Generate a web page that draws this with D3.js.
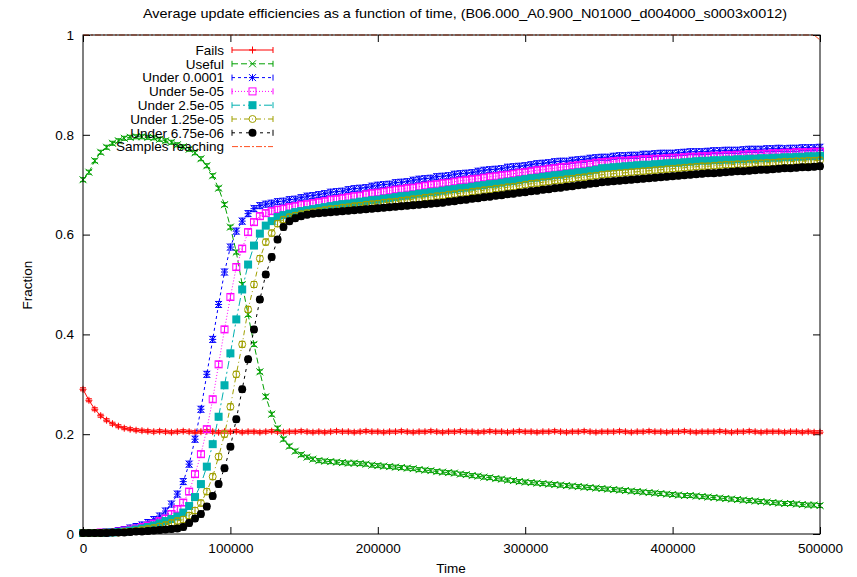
<!DOCTYPE html>
<html><head><meta charset="utf-8">
<script src="https://cdn.jsdelivr.net/npm/d3@7"></script>
<style>body{margin:0;background:#fff}svg{display:block}text{font-family:"Liberation Sans",Arial,sans-serif;fill:#000}</style>
</head><body><svg id="c" width="857" height="577"></svg>
<script>
const times = [0,4000,8000,12000,16000,20000,24000,28000,32000,36000,
40000,44000,48000,52000,56000,60000,64000,68000,72000,76000,
80000,84000,88000,92000,96000,100000,104000,108000,112000,116000,
120000,124000,128000,132000,136000,140000,144000,148000,152000,156000,
160000,164000,168000,172000,176000,180000,184000,188000,192000,196000,
200000,204000,208000,212000,216000,220000,224000,228000,232000,236000,
240000,244000,248000,252000,256000,260000,264000,268000,272000,276000,
280000,284000,288000,292000,296000,300000,304000,308000,312000,316000,
320000,324000,328000,332000,336000,340000,344000,348000,352000,356000,
360000,364000,368000,372000,376000,380000,384000,388000,392000,396000,
400000,404000,408000,412000,416000,420000,424000,428000,432000,436000,
440000,444000,448000,452000,456000,460000,464000,468000,472000,476000,
480000,484000,488000,492000,496000,500000];

const fails = [0.290,0.268,0.250,0.237,0.228,0.221,0.216,0.212,0.210,0.208,
0.207,0.206,0.205,0.206,0.205,0.204,0.205,0.206,0.205,0.204,
0.205,0.206,0.205,0.204,0.205,0.205,0.206,0.204,0.205,0.205,
0.204,0.205,0.206,0.205,0.204,0.205,0.205,0.206,0.205,0.204,
0.205,0.204,0.205,0.206,0.205,0.205,0.204,0.205,0.206,0.205,
0.205,0.204,0.205,0.205,0.206,0.205,0.204,0.205,0.205,0.206,
0.205,0.204,0.205,0.205,0.206,0.205,0.205,0.204,0.205,0.206,
0.205,0.205,0.204,0.205,0.206,0.205,0.205,0.204,0.205,0.205,
0.206,0.205,0.204,0.205,0.205,0.206,0.205,0.204,0.205,0.205,
0.205,0.206,0.205,0.204,0.205,0.205,0.206,0.205,0.205,0.204,
0.205,0.205,0.206,0.205,0.204,0.205,0.205,0.205,0.206,0.205,
0.204,0.205,0.205,0.206,0.205,0.204,0.205,0.205,0.205,0.204,
0.205,0.205,0.204,0.205,0.204,0.204];

const useful = [0.710,0.725,0.748,0.765,0.775,0.783,0.788,0.793,0.795,0.796,
0.796,0.795,0.794,0.791,0.788,0.785,0.780,0.776,0.771,0.764,
0.752,0.738,0.718,0.693,0.660,0.615,0.565,0.500,0.440,0.380,
0.325,0.275,0.240,0.212,0.190,0.176,0.166,0.159,0.154,0.150,
0.147,0.146,0.145,0.144,0.143,0.142,0.142,0.141,0.140,0.138,
0.137,0.136,0.135,0.134,0.133,0.132,0.131,0.129,0.128,0.127,
0.125,0.124,0.123,0.122,0.120,0.119,0.117,0.116,0.114,0.113,
0.111,0.110,0.108,0.107,0.105,0.104,0.103,0.102,0.101,0.100,
0.099,0.098,0.097,0.096,0.095,0.094,0.093,0.092,0.091,0.090,
0.089,0.088,0.087,0.086,0.085,0.084,0.083,0.082,0.081,0.080,
0.079,0.078,0.077,0.077,0.076,0.075,0.074,0.073,0.072,0.071,
0.070,0.069,0.068,0.067,0.066,0.065,0.064,0.063,0.062,0.061,
0.061,0.060,0.059,0.058,0.058,0.057];

const under1e4 = [0.002,0.002,0.003,0.003,0.004,0.005,0.007,0.009,0.012,0.015,
0.018,0.023,0.029,0.036,0.046,0.060,0.080,0.105,0.140,0.190,
0.250,0.320,0.390,0.460,0.525,0.575,0.607,0.627,0.642,0.652,
0.658,0.661,0.663,0.666,0.667,0.670,0.671,0.674,0.677,0.678,
0.680,0.682,0.685,0.686,0.687,0.690,0.692,0.693,0.694,0.697,
0.699,0.700,0.701,0.704,0.705,0.706,0.709,0.711,0.712,0.713,
0.716,0.717,0.718,0.721,0.722,0.723,0.724,0.727,0.729,0.730,
0.731,0.732,0.735,0.736,0.737,0.738,0.740,0.742,0.743,0.744,
0.746,0.747,0.747,0.749,0.750,0.751,0.753,0.754,0.755,0.755,
0.757,0.758,0.758,0.759,0.759,0.761,0.761,0.762,0.763,0.763,
0.763,0.764,0.765,0.766,0.766,0.766,0.767,0.768,0.768,0.769,
0.769,0.769,0.770,0.771,0.771,0.771,0.772,0.772,0.773,0.772,
0.773,0.773,0.774,0.774,0.774,0.775];

const under5e5 = [0.002,0.002,0.002,0.003,0.003,0.004,0.005,0.007,0.009,0.011,
0.014,0.017,0.021,0.026,0.031,0.040,0.050,0.063,0.085,0.120,
0.160,0.210,0.270,0.340,0.410,0.475,0.535,0.572,0.605,0.625,
0.637,0.643,0.647,0.650,0.652,0.655,0.657,0.660,0.661,0.663,
0.665,0.667,0.670,0.671,0.673,0.675,0.677,0.678,0.681,0.683,
0.684,0.686,0.688,0.690,0.691,0.693,0.694,0.696,0.698,0.700,
0.701,0.703,0.704,0.706,0.708,0.709,0.711,0.712,0.714,0.716,
0.717,0.719,0.720,0.722,0.724,0.725,0.727,0.729,0.730,0.732,
0.733,0.735,0.736,0.738,0.739,0.741,0.742,0.744,0.745,0.746,
0.747,0.748,0.748,0.749,0.750,0.751,0.751,0.752,0.752,0.753,
0.754,0.754,0.755,0.756,0.756,0.757,0.757,0.758,0.758,0.759,
0.759,0.760,0.760,0.761,0.761,0.762,0.762,0.763,0.763,0.764,
0.764,0.765,0.765,0.765,0.766,0.766];

const under25e6 = [0.002,0.002,0.002,0.002,0.003,0.003,0.004,0.005,0.007,0.009,
0.011,0.014,0.017,0.021,0.026,0.030,0.035,0.043,0.056,0.074,
0.100,0.135,0.180,0.235,0.298,0.362,0.430,0.490,0.540,0.578,
0.602,0.618,0.627,0.635,0.639,0.642,0.645,0.647,0.649,0.651,
0.653,0.655,0.657,0.659,0.661,0.662,0.664,0.666,0.667,0.669,
0.670,0.672,0.673,0.675,0.677,0.678,0.680,0.682,0.683,0.685,
0.686,0.688,0.690,0.691,0.693,0.694,0.696,0.698,0.699,0.701,
0.702,0.704,0.706,0.707,0.709,0.711,0.713,0.714,0.716,0.717,
0.719,0.720,0.722,0.723,0.725,0.726,0.728,0.730,0.733,0.734,
0.735,0.736,0.737,0.738,0.739,0.740,0.740,0.741,0.742,0.743,
0.744,0.744,0.745,0.746,0.747,0.748,0.748,0.749,0.749,0.750,
0.750,0.751,0.751,0.752,0.752,0.753,0.753,0.754,0.754,0.755,
0.755,0.756,0.756,0.757,0.757,0.758];

const under125e7 = [0.002,0.002,0.002,0.002,0.003,0.003,0.003,0.004,0.005,0.006,
0.008,0.010,0.012,0.015,0.018,0.022,0.026,0.029,0.037,0.047,
0.062,0.085,0.115,0.155,0.200,0.255,0.320,0.380,0.450,0.500,
0.552,0.585,0.603,0.622,0.630,0.635,0.638,0.641,0.643,0.645,
0.647,0.649,0.651,0.652,0.654,0.655,0.657,0.658,0.660,0.661,
0.662,0.664,0.665,0.666,0.668,0.669,0.671,0.672,0.674,0.675,
0.677,0.678,0.680,0.681,0.683,0.684,0.686,0.687,0.689,0.690,
0.692,0.693,0.695,0.696,0.698,0.700,0.702,0.703,0.705,0.706,
0.708,0.709,0.711,0.712,0.714,0.715,0.717,0.718,0.720,0.721,
0.722,0.723,0.724,0.725,0.726,0.727,0.728,0.729,0.730,0.731,
0.732,0.733,0.734,0.735,0.736,0.737,0.737,0.738,0.739,0.740,
0.740,0.741,0.741,0.742,0.743,0.743,0.744,0.744,0.745,0.746,
0.746,0.747,0.747,0.748,0.748,0.749];

const under675e8 = [0.002,0.002,0.002,0.002,0.002,0.003,0.003,0.003,0.004,0.005,
0.005,0.006,0.007,0.008,0.009,0.010,0.011,0.014,0.022,0.031,
0.040,0.055,0.076,0.100,0.132,0.175,0.230,0.290,0.350,0.410,
0.470,0.520,0.555,0.590,0.615,0.627,0.633,0.637,0.640,0.642,
0.643,0.644,0.645,0.646,0.647,0.648,0.649,0.650,0.651,0.652,
0.653,0.654,0.655,0.656,0.657,0.658,0.659,0.660,0.661,0.662,
0.663,0.664,0.666,0.667,0.669,0.670,0.672,0.673,0.675,0.676,
0.678,0.679,0.681,0.682,0.684,0.685,0.687,0.688,0.690,0.691,
0.693,0.694,0.696,0.697,0.699,0.700,0.702,0.703,0.705,0.706,
0.707,0.708,0.709,0.710,0.711,0.712,0.713,0.714,0.715,0.716,
0.717,0.718,0.719,0.720,0.721,0.722,0.723,0.723,0.724,0.725,
0.726,0.727,0.727,0.728,0.729,0.730,0.730,0.731,0.732,0.733,
0.733,0.734,0.735,0.735,0.736,0.737];

const samplesReaching = [1,1,1,1,1,1,1,1,1,1, 1,1,1,1,1,1,1,1,1,1, 1,1,1,1,1,1,1,1,1,1,
1,1,1,1,1,1,1,1,1,1, 1,1,1,1,1,1,1,1,1,1, 1,1,1,1,1,1,1,1,1,1,
1,1,1,1,1,1,1,1,1,1, 1,1,1,1,1,1,1,1,1,1, 1,1,1,1,1,1,1,1,1,1,
1,1,1,1,1,1,1,1,1,1, 1,1,1,1,1,1,1,1,1,1, 1,1,1,1,1,1,1,1,1,1,
1,1,1,1,1,0.99];

const seriesNames = ["Fails","Useful","Under 0.0001","Under 5e-05","Under 2.5e-05","Under 1.25e-05","Under 6.75e-06","Samples reaching"];
const errHalf = [0.003,0.004,0.006,0.006,0.006,0.006,0.006,0];
const xTicks = [0,100000,200000,300000,400000,500000];
const yTicks = [0,0.2,0.4,0.6,0.8,1];
const yTickLabels = ["0","0.2","0.4","0.6","0.8","1"];
const titleText = "Average update efficiencies as a function of time, (B06.000_A0.900_N01000_d004000_s0003x0012)";

const styles = [
  {color:"#ff0000", dash:null, marker:"plus"},
  {color:"#00a000", dash:"6,3", marker:"cross"},
  {color:"#0000ff", dash:"3,3", marker:"star"},
  {color:"#ff00ff", dash:"1,2", marker:"osquare"},
  {color:"#00b0b0", dash:"8,3,2,3", marker:"fsquare"},
  {color:"#a0a000", dash:"5,3,1,3", marker:"ocircle"},
  {color:"#000000", dash:"3,4", marker:"fcircle"},
  {color:"#ff5020", dash:"6,2,2,2", marker:null}
];
const seriesValues = [fails,useful,under1e4,under5e5,under25e6,under125e7,under675e8,samplesReaching];

const L = 83, R = 820, T = 35, B = 534;
const x = d3.scaleLinear().domain([0,500000]).range([L,R]);
const y = d3.scaleLinear().domain([0,1]).range([B,T]);
const svg = d3.select("#c");
const FS = 13.5;

const fmt = (d,i)=>yTickLabels[i];
const gB = svg.append("g").attr("transform",`translate(0,${B})`)
  .call(d3.axisBottom(x).tickValues(xTicks).tickSize(-7).tickPadding(9).tickFormat(d3.format("d")));
const gT = svg.append("g").attr("transform",`translate(0,${T})`)
  .call(d3.axisTop(x).tickValues(xTicks).tickSize(-7).tickFormat(""));
const gL = svg.append("g").attr("transform",`translate(${L},0)`)
  .call(d3.axisLeft(y).tickValues(yTicks).tickSize(-7).tickPadding(9).tickFormat(fmt));
const gR = svg.append("g").attr("transform",`translate(${R},0)`)
  .call(d3.axisRight(y).tickValues(yTicks).tickSize(-7).tickFormat(""));
[gB,gT,gL,gR].forEach(g=>{
  g.select(".domain").remove();
  g.selectAll("line").attr("stroke","#000").attr("stroke-width",1);
  g.selectAll("text").attr("font-size",FS).attr("font-family","Liberation Sans, Arial, sans-serif").attr("fill","#000");
});

svg.append("text").attr("x",465).attr("y",18).attr("text-anchor","middle").attr("font-size",13.5)
  .attr("textLength",644).attr("lengthAdjust","spacingAndGlyphs").text(titleText);
svg.append("text").attr("x",451).attr("y",573).attr("text-anchor","middle").attr("font-size",FS).text("Time");
svg.append("text").attr("transform","translate(32,285) rotate(-90)").attr("text-anchor","middle").attr("font-size",FS).text("Fraction");

function drawMarker(g, type, cx, cy, color){
  const s = 3.5;
  if(type==="plus"){
    g.append("path").attr("d",`M${cx-s},${cy}H${cx+s}M${cx},${cy-s}V${cy+s}`).attr("stroke",color).attr("fill","none");
  } else if(type==="cross"){
    g.append("path").attr("d",`M${cx-s},${cy-s}L${cx+s},${cy+s}M${cx-s},${cy+s}L${cx+s},${cy-s}`).attr("stroke",color).attr("fill","none");
  } else if(type==="star"){
    g.append("path").attr("d",`M${cx-s},${cy}H${cx+s}M${cx},${cy-s}V${cy+s}M${cx-s},${cy-s}L${cx+s},${cy+s}M${cx-s},${cy+s}L${cx+s},${cy-s}`).attr("stroke",color).attr("fill","none");
  } else if(type==="osquare"){
    g.append("rect").attr("x",cx-s).attr("y",cy-s).attr("width",2*s).attr("height",2*s).attr("stroke",color).attr("fill","none");
  } else if(type==="fsquare"){
    g.append("rect").attr("x",cx-s-0.5).attr("y",cy-s-0.5).attr("width",2*s+1).attr("height",2*s+1).attr("fill",color);
  } else if(type==="ocircle"){
    g.append("circle").attr("cx",cx).attr("cy",cy).attr("r",s).attr("stroke",color).attr("fill","none");
  } else if(type==="fcircle"){
    g.append("circle").attr("cx",cx).attr("cy",cy).attr("r",s+0.5).attr("fill",color);
  }
}

const plot = svg.append("g");
seriesValues.forEach((vals,k)=>{
  const st = styles[k];
  const g = plot.append("g");
  const data = times.map((t,i)=>[t,vals[i]]);
  const line = d3.line().x(d=>x(d[0])).y(d=>y(d[1]));
  g.append("path").attr("d",line(data)).attr("fill","none").attr("stroke",st.color).attr("stroke-width",1)
    .attr("stroke-dasharray",st.dash);
  if(st.marker){
    const e = errHalf[k];
    data.forEach(d=>{
      const cx = x(d[0]), cy = y(d[1]);
      if(e>0){
        const y1 = y(d[1]-e), y2 = y(d[1]+e);
        g.append("path").attr("d",`M${cx},${y1}V${y2}M${cx-3},${y1}H${cx+3}M${cx-3},${y2}H${cx+3}`).attr("stroke",st.color).attr("fill","none");
      }
      drawMarker(g, st.marker, cx, cy, st.color);
    });
  }
});

svg.append("rect").attr("x",L).attr("y",T).attr("width",R-L).attr("height",B-T).attr("fill","none").attr("stroke","#000").attr("stroke-width",1);

const leg = svg.append("g");
seriesNames.forEach((name,k)=>{
  const cy = 50 + 13.8*k;
  const st = styles[k];
  leg.append("text").attr("x",224).attr("y",cy).attr("dy","0.35em").attr("text-anchor","end").attr("font-size",FS).text(name);
  leg.append("path").attr("d",`M232,${cy}H273`).attr("stroke",st.color).attr("stroke-dasharray",st.dash).attr("fill","none");
  if(st.marker){
    leg.append("path").attr("d",`M232,${cy-3}V${cy+3}M273,${cy-3}V${cy+3}`).attr("stroke",st.color).attr("fill","none");
    drawMarker(leg, st.marker, 252.5, cy, st.color);
  }
});
</script></body></html>
